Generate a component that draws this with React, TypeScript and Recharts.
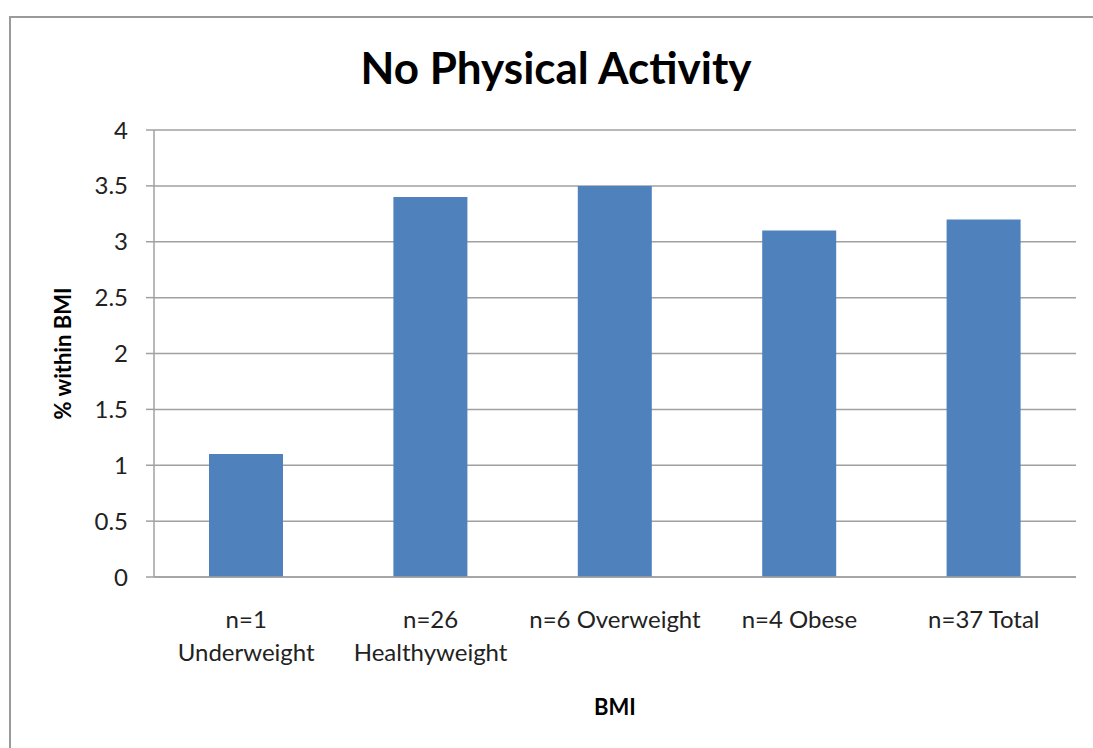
import { BarChart, Bar, XAxis, YAxis, CartesianGrid } from "recharts";

const categories = ["n=1\nUnderweight", "n=26\nHealthyweight", "n=6 Overweight", "n=4 Obese", "n=37 Total"];
const values = [1.1, 3.4, 3.5, 3.1, 3.2];
const yTicks = [0, 0.5, 1, 1.5, 2, 2.5, 3, 3.5, 4];

const data = categories.map((name, i) => ({ name, value: values[i] }));

const FONT = "Lato, 'Open Sans', sans-serif";

function CategoryTick(props: any) {
  const { x, y, payload } = props;
  const lines = String(payload.value).split("\n");
  return (
    <text x={x} y={y} textAnchor="middle" fontFamily={FONT} fontSize={24} fill="#222">
      {lines.map((l, i) => (
        <tspan key={i} x={x} dy={i === 0 ? 43 : 33}>
          {l}
        </tspan>
      ))}
    </text>
  );
}

export default function App() {
  return (
    <div style={{ position: "absolute", left: 0, top: 0, width: 1093, height: 748, overflow: "hidden", background: "#fff" }}>
      <div
        style={{
          position: "absolute",
          left: 9,
          top: 16,
          width: 1100,
          height: 760,
          border: "2px solid #9a9a9a",
          boxSizing: "border-box",
        }}
      />
      <div
        style={{
          position: "absolute",
          left: 9,
          width: 1094,
          top: 40,
          textAlign: "center",
          fontFamily: FONT,
          fontWeight: 700,
          fontSize: 44,
          lineHeight: "54px",
          color: "#000",
        }}
      >
        No Physical Activity
      </div>
      <div style={{ position: "absolute", left: 0, top: 0 }}>
        <BarChart width={1093} height={748} data={data} margin={{ top: 130, right: 17, bottom: 0, left: 0 }}>
          <CartesianGrid vertical={false} stroke="#a0a0a0" strokeWidth={1.5} />
          <XAxis
            dataKey="name"
            height={171}
            tickLine={false}
            axisLine={{ stroke: "#a0a0a0", strokeWidth: 1.5 }}
            tick={<CategoryTick />}
            interval={0}
            label={{
              value: "BMI",
              position: "insideBottom",
              offset: 33,
              style: { fontFamily: FONT, fontWeight: 700, fontSize: 22, fill: "#000" },
            }}
          />
          <YAxis
            width={154}
            domain={[0, 4]}
            ticks={yTicks}
            tickSize={8}
            tickMargin={18}
            tickLine={{ stroke: "#a0a0a0", strokeWidth: 1.5 }}
            axisLine={{ stroke: "#a0a0a0", strokeWidth: 1.5 }}
            tick={{ fontFamily: FONT, fontSize: 24, fill: "#222" }}
            label={{
              value: "% within BMI",
              angle: -90,
              position: "center",
              dx: -14,
              style: { fontFamily: FONT, fontWeight: 700, fontSize: 22, fill: "#000", textAnchor: "middle" },
            }}
          />
          <Bar dataKey="value" fill="#4f81bd" barSize={74} isAnimationActive={false} />
        </BarChart>
      </div>
    </div>
  );
}
